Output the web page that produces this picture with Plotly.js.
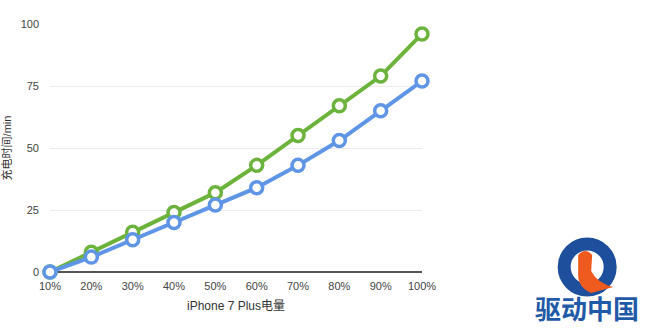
<!DOCTYPE html>
<html>
<head>
<meta charset="utf-8">
<script src="https://cdn.plot.ly/plotly-3.0.1.min.js"></script>
<style>
  html, body { margin: 0; padding: 0; background: #fff; }
  #chart { width: 650px; height: 333px; }
</style>
</head>
<body>
<div id="chart"></div>
<script>
// Battery level categories
const levels = ['10%', '20%', '30%', '40%', '50%', '60%', '70%', '80%', '90%', '100%'];
// Charging time (minutes) for the two series
const greenTimes = [0, 8, 16, 24, 32, 43, 55, 67, 79, 96];
const blueTimes  = [0, 6, 13, 20, 27, 34, 43, 53, 65, 77];
const yTicks = [0, 25, 50, 75, 100];

const FONT = 'Liberation Sans, Arial, "Noto Sans CJK SC", sans-serif';

function series(values, color) {
  return {
    x: levels,
    y: values,
    type: 'scatter',
    mode: 'lines+markers',
    cliponaxis: false,
    line: { color: color, width: 4 },
    marker: { symbol: 'circle', size: 12, color: '#ffffff', line: { color: color, width: 3.5 } },
    hoverinfo: 'skip'
  };
}

const data = [series(greenTimes, '#6cb33c'), series(blueTimes, '#5e95e6')];

const layout = {
  width: 650,
  height: 333,
  margin: { l: 50, r: 228, t: 24, b: 61 },
  paper_bgcolor: '#ffffff',
  plot_bgcolor: '#ffffff',
  showlegend: false,
  font: { family: FONT, size: 11, color: '#333333' },
  xaxis: {
    type: 'category',
    range: [0, 9],
    showgrid: false,
    zeroline: false,
    showline: false,
    ticks: '',
    ticklabelstandoff: 6,
    tickfont: { size: 11, color: '#444444' },
    title: { text: 'iPhone 7 Plus电量', font: { size: 12, color: '#333333' }, standoff: 10 }
  },
  yaxis: {
    range: [0, 100],
    tickvals: yTicks,
    ticktext: yTicks.map(String),
    showgrid: true,
    gridcolor: '#ececec',
    gridwidth: 1,
    zeroline: true,
    zerolinecolor: '#555555',
    zerolinewidth: 2,
    showline: false,
    ticks: '',
    ticklabelstandoff: 10,
    tickfont: { size: 11, color: '#444444' },
    title: { text: '充电时间/min', font: { size: 11, color: '#333333' }, standoff: 10 }
  },
  shapes: [
    // logo ring
    { type: 'circle', xref: 'paper', yref: 'paper', xsizemode: 'pixel', ysizemode: 'pixel',
      xanchor: 1.444, yanchor: 0.02, x0: -23, x1: 23, y0: -23, y1: 23,
      line: { color: '#1d4f9c', width: 13 }, fillcolor: 'rgba(0,0,0,0)' },
    // logo bird
    { type: 'path', xref: 'paper', yref: 'paper', xsizemode: 'pixel', ysizemode: 'pixel',
      xanchor: 1.444, yanchor: 0.02,
      path: 'M -9,12 Q -2,20 5,12 L 4,-4 Q 10,-16 26,-20 L 4,-26 Q -10,-20 -9,-6 Z',
      line: { width: 0 }, fillcolor: '#ef5a1f' }
  ],
  annotations: [
    { xref: 'paper', yref: 'paper', x: 1.444, y: -0.06, xanchor: 'center', yanchor: 'top', showarrow: false,
      text: '<b>驱动中国</b>', font: { family: '"Noto Sans CJK SC", sans-serif', size: 26, color: '#1f5aa8' } }
  ]
};

Plotly.newPlot('chart', data, layout, { displayModeBar: false, staticPlot: true });
</script>
</body>
</html>
